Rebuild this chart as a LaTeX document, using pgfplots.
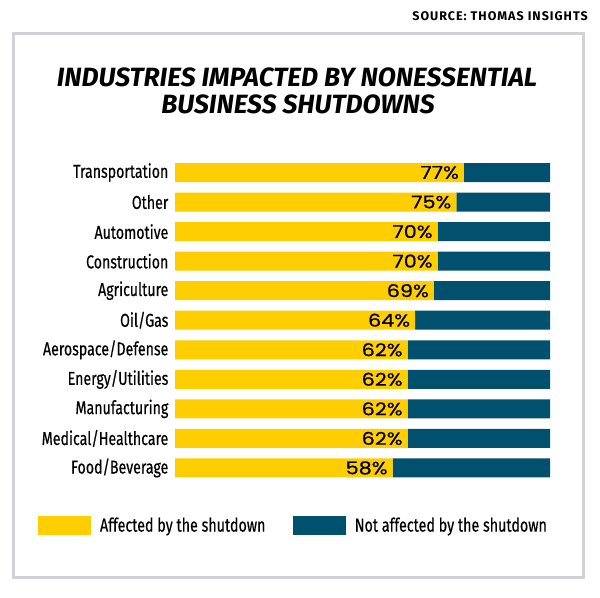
\documentclass[border=0pt]{standalone}
\usepackage{fontspec}
\usepackage{pgfplots}
\pgfplotsset{compat=1.18}
\setmainfont{Fira Sans}
\newfontfamily\labelfont{Fira Sans}[FakeStretch=0.76, FakeBold=0.4]
\newfontfamily\titlefont{Fira Sans}
\newfontfamily\pctfont{Poppins}[FakeBold=0.6, FakeStretch=1.18]
\newfontfamily\srcfont{Fira Sans}[LetterSpace=8]
\definecolor{cyel}{HTML}{FFCE00}
\definecolor{cteal}{HTML}{00506E}
\definecolor{cframe}{HTML}{D2D2D4}
\begin{document}
\begin{tikzpicture}
\useasboundingbox (0,0) rectangle (450pt,-447.75pt);
\draw[cframe, line width=2.25pt] (10pt,-25pt) rectangle (437.25pt,-432.75pt);
\node[anchor=base east, inner sep=0pt, font=\srcfont\bfseries\fontsize{9.4}{11}\selectfont] at (441pt,-15pt) {SOURCE: THOMAS INSIGHTS};
\node[anchor=base, inner sep=0pt, font=\titlefont\bfseries\itshape\fontsize{19.8}{21}\selectfont] at (222.75pt,-64.5pt) {INDUSTRIES IMPACTED BY NONESSENTIAL};
\node[anchor=base, inner sep=0pt, font=\titlefont\bfseries\itshape\fontsize{19.8}{21}\selectfont] at (223.5pt,-84.75pt) {BUSINESS SHUTDOWNS};
\begin{axis}[
  at={(131.25pt,-118.3pt)}, anchor=north west,
  scale only axis, width=281.25pt, height=243.75pt,
  xbar stacked, bar width=14.25pt,
  xmin=0, xmax=100, ymin=-0.5, ymax=10.5, y dir=reverse,
  hide x axis,
  axis y line*=left, y axis line style={draw=none},
  ytick={0,...,10}, ytick style={draw=none},
  yticklabels={Transportation,Other,Automotive,Construction,Agriculture,Oil/Gas,Aerospace/Defense,Energy/Utilities,Manufacturing,Medical/Healthcare,Food/Beverage},
  yticklabel style={font=\labelfont\fontsize{14}{16}\selectfont, inner xsep=0pt},
  yticklabel shift=4.8pt,
  legend columns=2,
  legend style={draw=none, fill=none, inner sep=0pt, outer sep=0pt,
    at={(axis description cs:-0.3653,-0.1317)}, anchor=west,
    font=\labelfont\fontsize{14.1}{16}\selectfont,
    nodes={inner sep=0pt, anchor=west},
    /tikz/every odd column/.append style={column sep=6.75pt},
    /tikz/every even column/.append style={column sep=20.5pt}},
  legend image code/.code={\fill[#1] (0pt,-7.125pt) rectangle (39.75pt,7.125pt);},
]
\addplot[fill=cyel, draw=none, point meta=x,
  visualization depends on={rawx \as \rawxval},
  /pgf/number format/assume math mode=true,
  nodes near coords={\pgfmathprintnumber{\pgfplotspointmeta}\%},
  every node near coord/.append style={anchor=east, inner xsep=3.5pt, xshift=1.40625pt*\rawxval, font=\pctfont\fontsize{13.2}{14}\selectfont, text=black}]
  coordinates {(77,0) (75,1) (70,2) (70,3) (69,4) (64,5) (62,6) (62,7) (62,8) (62,9) (58,10)};
\addplot[fill=cteal, draw=none]
  coordinates {(23,0) (25,1) (30,2) (30,3) (31,4) (36,5) (38,6) (38,7) (38,8) (38,9) (42,10)};
\legend{Affected by the shutdown, Not affected by the shutdown}
\end{axis}
\end{tikzpicture}
\end{document}
